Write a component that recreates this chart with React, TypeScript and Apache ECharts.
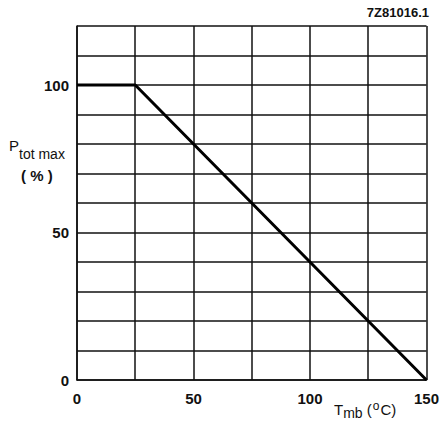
import React, { useEffect, useRef } from "react";
import * as echarts from "echarts";

const tempC = [0, 25, 150];
const ptotPct = [100, 100, 0];
const xTickLabels = [0, 50, 100, 150];
const yTickLabels = [0, 50, 100];
const figureCode = "7Z81016.1";

export default function App() {
  const ref = useRef<HTMLDivElement>(null);
  useEffect(() => {
    document.body.style.margin = "0";
    const chart = echarts.init(ref.current!, null, { renderer: "svg" });
    const font = "'Liberation Sans', Arial, sans-serif";
    chart.setOption({
      animation: false,
      backgroundColor: "#fff",
      grid: { left: 77, right: 11, top: 26, bottom: 41 },
      xAxis: {
        type: "value",
        min: 0,
        max: 150,
        interval: 25,
        axisLine: { show: true, lineStyle: { color: "#111", width: 1.5 } },
        axisTick: { show: false },
        splitLine: { show: true, lineStyle: { color: "#111", width: 1.5 } },
        axisLabel: {
          margin: 11,
          color: "#111",
          fontFamily: font,
          fontWeight: "bold",
          fontSize: 15,
          formatter: (v: number) => (xTickLabels.includes(v) ? String(v) : ""),
        },
      },
      yAxis: {
        type: "value",
        min: 0,
        max: 120,
        interval: 10,
        axisLine: { show: true, lineStyle: { color: "#111", width: 1.5 } },
        axisTick: { show: false },
        splitLine: { show: true, lineStyle: { color: "#111", width: 1.5 } },
        axisLabel: {
          margin: 8,
          color: "#111",
          fontFamily: font,
          fontWeight: "bold",
          fontSize: 15,
          formatter: (v: number) => (yTickLabels.includes(v) ? String(v) : ""),
        },
      },
      series: [
        {
          type: "line",
          data: tempC.map((t, i) => [t, ptotPct[i]]),
          symbol: "none",
          lineStyle: { color: "#000", width: 3 },
        },
      ],
      graphic: [
        {
          type: "text",
          right: 13,
          top: 6,
          style: {
            text: figureCode,
            fontFamily: font,
            fontWeight: "bold",
            fontSize: 13,
            fill: "#111",
          },
        },
        {
          type: "text",
          left: 9,
          top: 138,
          style: {
            text: "{p|P}{s|tot max}",
            fontFamily: font,
            fill: "#111",
            rich: {
              p: { fontSize: 15, fontWeight: "normal", fontFamily: font, fill: "#111", padding: [0, 0, 7, 0] },
              s: { fontSize: 14, fontWeight: "normal", fontFamily: font, fill: "#111", padding: [9, 0, 0, 0] },
            },
          },
        },
        {
          type: "text",
          left: 21,
          top: 168,
          style: {
            text: "( % )",
            fontFamily: font,
            fontWeight: "bold",
            fontSize: 15,
            fill: "#111",
          },
        },
        {
          type: "text",
          left: 334,
          top: 400,
          style: {
            text: "{t|T}{s|mb}{t| (}{o|o}{t|C)}",
            fontFamily: font,
            fill: "#111",
            rich: {
              t: { fontSize: 15, fontWeight: "normal", fontFamily: font, fill: "#111" },
              s: { fontSize: 14, fontWeight: "normal", fontFamily: font, fill: "#111", padding: [7, 0, 0, 0] },
              o: { fontSize: 12, fontWeight: "normal", fontFamily: font, fill: "#111", padding: [0, 1, 6, 1] },
            },
          },
        },
      ],
    });
    return () => chart.dispose();
  }, []);
  return <div ref={ref} style={{ width: 442, height: 421 }} />;
}
